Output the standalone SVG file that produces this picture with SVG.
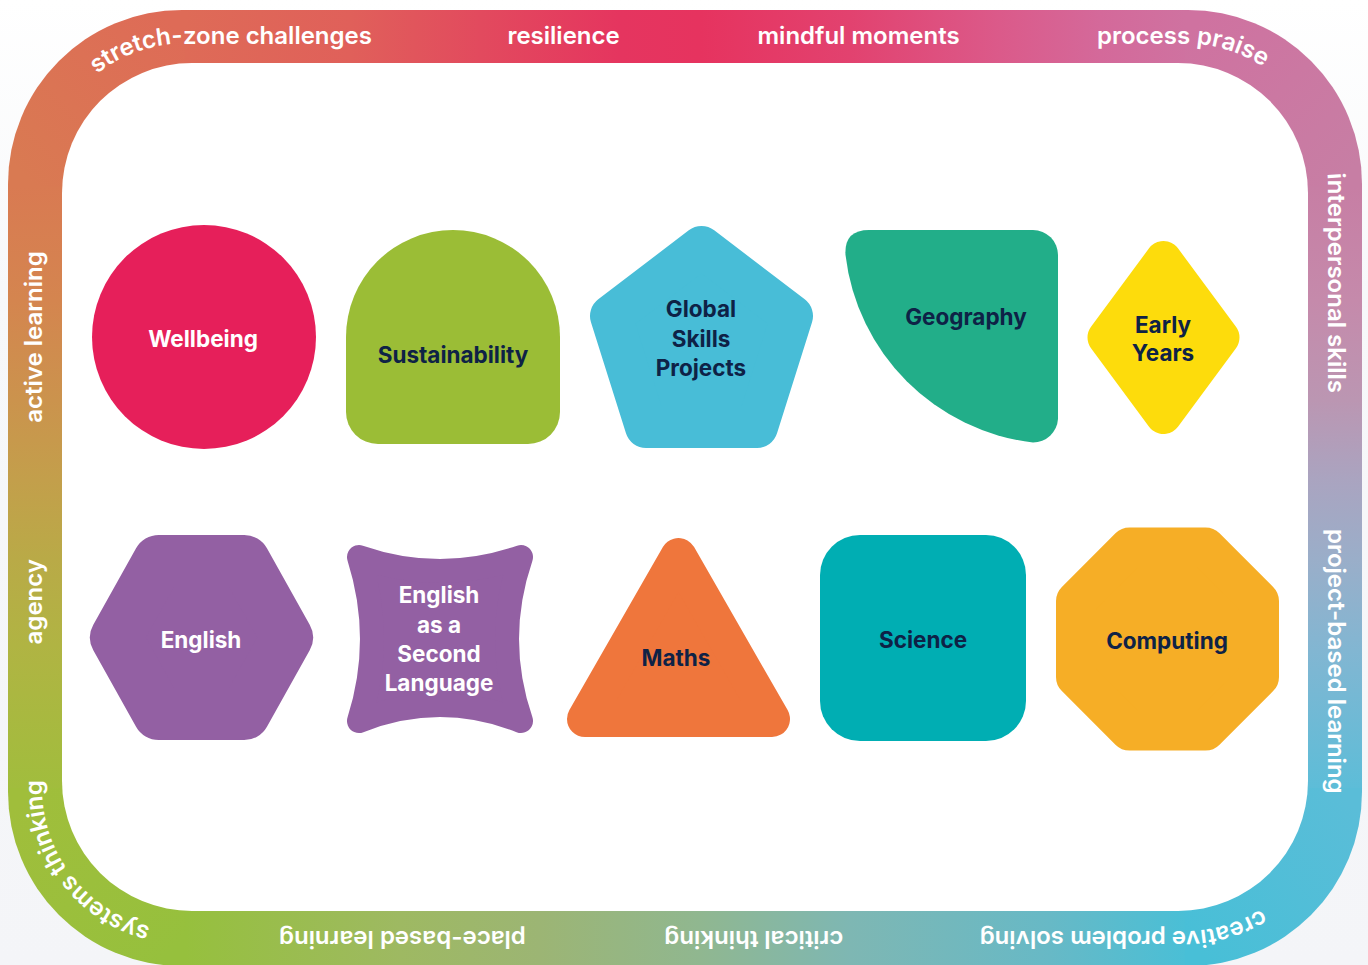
<svg xmlns="http://www.w3.org/2000/svg" xmlns:xlink="http://www.w3.org/1999/xlink" width="1368" height="965" viewBox="0 0 1368 965">
<style>
  .rt { font-family: Inter, "Open Sans", "Liberation Sans", sans-serif; font-weight: 600; font-size: 24px; fill: #ffffff; }
  .lb { font-family: Inter, "Open Sans", "Liberation Sans", sans-serif; font-weight: 700; font-size: 22.5px; fill: #0e2246; text-anchor: middle; }
  .lw { fill: #ffffff; }
  .seg { fill: none; stroke-width: 100; stroke-linecap: butt; }
  .rp { stroke-linejoin: round; }
</style>
<defs>
  <linearGradient id="bg" x1="0" y1="0" x2="0" y2="965" gradientUnits="userSpaceOnUse">
    <stop offset="0" stop-color="#ffffff"/>
    <stop offset="0.3" stop-color="#f7f8fa"/>
    <stop offset="1" stop-color="#f4f5f8"/>
  </linearGradient>
  <linearGradient id="gTop" x1="185" y1="0" x2="1185" y2="0" gradientUnits="userSpaceOnUse">
    <stop offset="0" stop-color="#de6b57"/>
    <stop offset="0.165" stop-color="#e0605a"/>
    <stop offset="0.295" stop-color="#e24a5e"/>
    <stop offset="0.435" stop-color="#e5355f"/>
    <stop offset="0.515" stop-color="#e6335f"/>
    <stop offset="0.665" stop-color="#e2426f"/>
    <stop offset="0.815" stop-color="#db5a8a"/>
    <stop offset="0.915" stop-color="#d4699a"/>
    <stop offset="1" stop-color="#cf72a0"/>
  </linearGradient>
  <linearGradient id="gTR" x1="1185" y1="36.5" x2="1335" y2="186.5" gradientUnits="userSpaceOnUse">
    <stop offset="0" stop-color="#cf72a0"/>
    <stop offset="1" stop-color="#c77ea4"/>
  </linearGradient>
  <linearGradient id="gRight" x1="0" y1="186.5" x2="0" y2="788" gradientUnits="userSpaceOnUse">
    <stop offset="0" stop-color="#c77ea4"/>
    <stop offset="0.19" stop-color="#c58aab"/>
    <stop offset="0.355" stop-color="#bb96b2"/>
    <stop offset="0.487" stop-color="#aaa4c0"/>
    <stop offset="0.62" stop-color="#9aaec9"/>
    <stop offset="0.77" stop-color="#82b6d2"/>
    <stop offset="1" stop-color="#5dbdd8"/>
  </linearGradient>
  <linearGradient id="gBR" x1="1335" y1="788" x2="1185" y2="938" gradientUnits="userSpaceOnUse">
    <stop offset="0" stop-color="#5abdd8"/>
    <stop offset="1" stop-color="#48bfd7"/>
  </linearGradient>
  <linearGradient id="gBottom" x1="1185" y1="0" x2="185" y2="0" gradientUnits="userSpaceOnUse">
    <stop offset="0" stop-color="#4abfd6"/>
    <stop offset="0.135" stop-color="#67b9c6"/>
    <stop offset="0.335" stop-color="#7eb7b3"/>
    <stop offset="0.485" stop-color="#90b790"/>
    <stop offset="0.645" stop-color="#9cb574"/>
    <stop offset="0.785" stop-color="#9eb962"/>
    <stop offset="1" stop-color="#96c03d"/>
  </linearGradient>
  <linearGradient id="gBL" x1="185" y1="938" x2="35" y2="788" gradientUnits="userSpaceOnUse">
    <stop offset="0" stop-color="#96c03d"/>
    <stop offset="1" stop-color="#a0be3b"/>
  </linearGradient>
  <linearGradient id="gLeft" x1="0" y1="788" x2="0" y2="186.5" gradientUnits="userSpaceOnUse">
    <stop offset="0" stop-color="#a1bd3d"/>
    <stop offset="0.238" stop-color="#b0b443"/>
    <stop offset="0.38" stop-color="#b9aa47"/>
    <stop offset="0.512" stop-color="#c39f4b"/>
    <stop offset="0.645" stop-color="#cb934d"/>
    <stop offset="0.811" stop-color="#d4854f"/>
    <stop offset="1" stop-color="#d97a52"/>
  </linearGradient>
  <linearGradient id="gTL" x1="35" y1="186.5" x2="185" y2="36.5" gradientUnits="userSpaceOnUse">
    <stop offset="0" stop-color="#d97a52"/>
    <stop offset="1" stop-color="#de6b57"/>
  </linearGradient>
  <clipPath id="outerClip">
    <rect x="8" y="10" width="1354" height="956" rx="174" ry="174"/>
  </clipPath>
  <path id="base" d="M 42,490 V 186.5 A 143 143 0 0 1 185,43.5 H 1185 A 143 143 0 0 1 1328,186.5 V 788 A 143 143 0 0 1 1185,931 H 185 A 143 143 0 0 1 42,788 V 490"/>
</defs>

<rect x="0" y="0" width="1368" height="965" fill="url(#bg)"/>

<g id="ring">
  <g clip-path="url(#outerClip)">
    <path class="seg" stroke="url(#gTop)" d="M 183,36.5 H 1187"/>
    <path class="seg" stroke="url(#gRight)" d="M 1335,184.5 V 790"/>
    <path class="seg" stroke="url(#gBottom)" d="M 1187,938 H 183"/>
    <path class="seg" stroke="url(#gLeft)" d="M 35,790 V 184.5"/>
    <path class="seg" stroke="url(#gTR)" d="M 1185,36.5 A 150 150 0 0 1 1335,186.5"/>
    <path class="seg" stroke="url(#gBR)" d="M 1335,788 A 150 150 0 0 1 1185,938"/>
    <path class="seg" stroke="url(#gBL)" d="M 185,938 A 150 150 0 0 1 35,788"/>
    <path class="seg" stroke="url(#gTL)" d="M 35,186.5 A 150 150 0 0 1 185,36.5"/>
  </g>
  <rect x="62" y="63" width="1246" height="848" rx="130" ry="130" fill="#ffffff"/>
  <g id="ring-labels">
    <text class="rt" text-anchor="middle"><textPath xlink:href="#base" href="#base" startOffset="153">active learning</textPath></text>
    <text class="rt" text-anchor="end"><textPath xlink:href="#base" href="#base" startOffset="715">stretch-zone challenges</textPath></text>
    <text class="rt" text-anchor="middle"><textPath xlink:href="#base" href="#base" startOffset="906.6">resilience</textPath></text>
    <text class="rt" text-anchor="middle"><textPath xlink:href="#base" href="#base" startOffset="1201.6">mindful moments</textPath></text>
    <text class="rt" text-anchor="start"><textPath xlink:href="#base" href="#base" startOffset="1440">process praise</textPath></text>
    <text class="rt" text-anchor="end"><textPath xlink:href="#base" href="#base" startOffset="1959">interpersonal skills</textPath></text>
    <text class="rt" text-anchor="start"><textPath xlink:href="#base" href="#base" startOffset="2095">project-based learning</textPath></text>
    <text class="rt" text-anchor="end"><textPath xlink:href="#base" href="#base" startOffset="2784">creative problem solving</textPath></text>
    <text class="rt" text-anchor="middle"><textPath xlink:href="#base" href="#base" startOffset="3009.8">critical thinking</textPath></text>
    <text class="rt" text-anchor="middle"><textPath xlink:href="#base" href="#base" startOffset="3361.3">place-based learning</textPath></text>
    <text class="rt" text-anchor="end"><textPath xlink:href="#base" href="#base" startOffset="3811">systems thinking</textPath></text>
    <text class="rt" text-anchor="middle"><textPath xlink:href="#base" href="#base" startOffset="3989.4">agency</textPath></text>
  </g>
</g>

<g id="wellbeing">
  <circle cx="204" cy="337" r="112" fill="#e61f5a"/>
  <text class="lb lw" x="203" y="347">Wellbeing</text>
</g>

<g id="sustainability">
  <path d="M 346,337 A 107 107 0 0 1 560,337 V 412 A 32 32 0 0 1 528,444 H 378 A 32 32 0 0 1 346,412 Z" fill="#9bbd36"/>
  <text class="lb" x="453" y="363">Sustainability</text>
</g>

<g id="global-skills-projects">
  <polygon class="rp" points="701.5,247 792,316 757,427 646,427 611,316" fill="#48bdd7" stroke="#48bdd7" stroke-width="42"/>
  <text class="lb" x="701" y="317">Global</text>
  <text class="lb" x="701" y="347">Skills</text>
  <text class="lb" x="701" y="376">Projects</text>
</g>

<g id="geography">
  <path d="M 845.5,255 Q 844,230 869,230 H 1033 A 25 25 0 0 1 1058,255 V 419 A 25 25 0 0 1 1033,442.5 A 214 214 0 0 1 845.5,255 Z" fill="#22ae89"/>
  <text class="lb" x="966" y="325">Geography</text>
</g>

<g id="early-years">
  <polygon class="rp" points="1163.5,259 1221.5,337.5 1163.5,416 1105.5,337.5" fill="#fddc0c" stroke="#fddc0c" stroke-width="36"/>
  <text class="lb" x="1163" y="333">Early</text>
  <text class="lb" x="1163" y="361">Years</text>
</g>

<g id="english">
  <polygon class="rp" points="116,637.5 158.75,561 244.25,561 287,637.5 244.25,714 158.75,714" fill="#9360a3" stroke="#9360a3" stroke-width="52"/>
  <text class="lb lw" x="201" y="648">English</text>
</g>

<g id="esl">
  <path class="rp" d="M 359,557 Q 440,585 521,557 Q 493,639 521,721 Q 440,689 359,721 Q 385,639 359,557 Z" fill="#9360a3" stroke="#9360a3" stroke-width="24"/>
  <text class="lb lw" x="439" y="603">English</text>
  <text class="lb lw" x="439" y="633">as a</text>
  <text class="lb lw" x="439" y="662">Second</text>
  <text class="lb lw" x="439" y="691">Language</text>
</g>

<g id="maths">
  <polygon class="rp" points="678.5,556 772,719 585,719" fill="#ef763c" stroke="#ef763c" stroke-width="36"/>
  <text class="lb" x="676" y="666">Maths</text>
</g>

<g id="science">
  <rect x="820" y="535" width="206" height="206" rx="40" ry="40" fill="#00aeb3"/>
  <text class="lb" x="923" y="648">Science</text>
</g>

<g id="computing">
  <polygon class="rp" points="1129.6,547.5 1205.4,547.5 1259,601.1 1259,676.9 1205.4,730.5 1129.6,730.5 1076,676.9 1076,601.1" fill="#f6ae26" stroke="#f6ae26" stroke-width="40"/>
  <text class="lb" x="1167" y="649">Computing</text>
</g>
</svg>
